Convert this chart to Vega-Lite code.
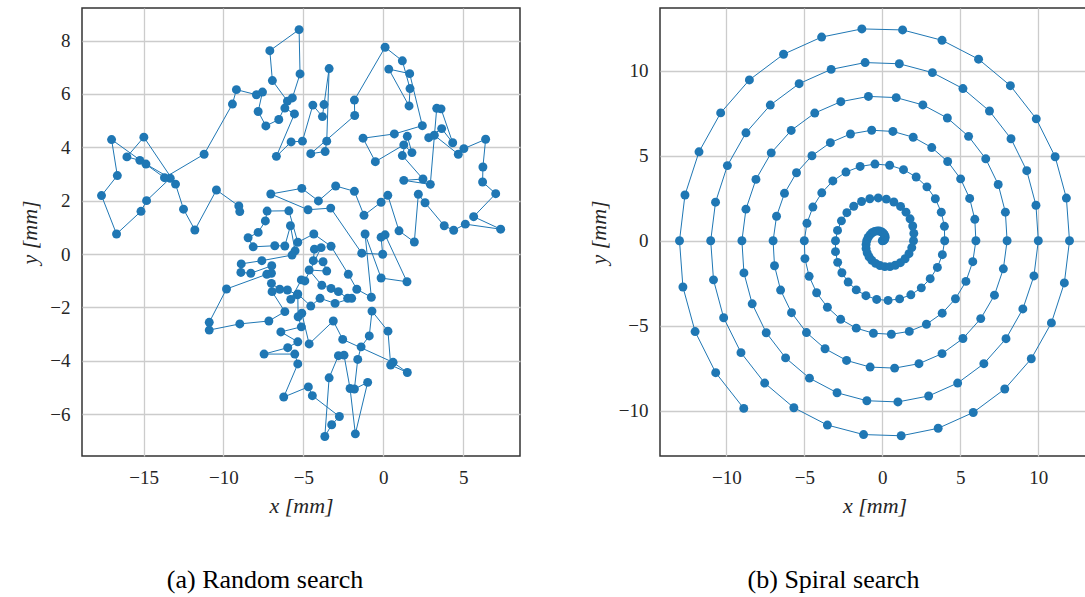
{
  "$schema": "https://vega.github.io/schema/vega-lite/v6.json",
  "padding": {"left": 18, "top": 7, "right": 0, "bottom": 0},
  "spacing": 65,
  "config": {
    "font": "Liberation Serif",
    "view": {"stroke": "#333333", "strokeWidth": 1.5},
    "axis": {"domain": false, "ticks": false, "grid": true, "gridColor": "#cccccc", "gridWidth": 1.3,
      "labelFont": "Liberation Serif", "labelFontSize": 19, "labelColor": "#262626", "labelPadding": 12,
      "titleFont": "Liberation Serif", "titleFontSize": 22, "titleFontStyle": "italic", "titleFontWeight": "normal", "titleColor": "#262626", "titlePadding": 8},
    "title": {"font": "Liberation Serif", "fontSize": 26, "fontWeight": "normal", "color": "#000000"}
  },
  "datasets": {
    "rw": [
      {"i":1,"x":-8.98,"y":1.59},{"i":2,"x":-9.04,"y":1.80},{"i":3,"x":-10.44,"y":2.40},{"i":4,"x":-11.79,"y":0.90},{"i":5,"x":-12.5,"y":1.68},
      {"i":6,"x":-13.0,"y":2.62},{"i":7,"x":-14.98,"y":4.38},{"i":8,"x":-16.04,"y":3.64},{"i":9,"x":-15.23,"y":3.51},{"i":10,"x":-14.85,"y":3.37},
      {"i":11,"x":-13.33,"y":2.84},{"i":12,"x":-14.81,"y":2.00},{"i":13,"x":-15.16,"y":1.60},{"i":14,"x":-16.69,"y":0.75},{"i":15,"x":-17.63,"y":2.19},
      {"i":16,"x":-16.64,"y":2.94},{"i":17,"x":-17.0,"y":4.29},{"i":18,"x":-13.69,"y":2.86},{"i":19,"x":-11.21,"y":3.74},{"i":20,"x":-9.44,"y":5.62},
      {"i":21,"x":-9.19,"y":6.16},{"i":22,"x":-7.94,"y":5.97},{"i":23,"x":-7.56,"y":6.07},{"i":24,"x":-7.83,"y":5.34},{"i":25,"x":-7.35,"y":4.80},
      {"i":26,"x":-6.54,"y":5.04},{"i":27,"x":-6.0,"y":5.73},{"i":28,"x":-6.94,"y":6.50},{"i":29,"x":-7.1,"y":7.62},{"i":30,"x":-5.27,"y":8.41},
      {"i":31,"x":-5.21,"y":6.75},{"i":32,"x":-5.69,"y":5.85},{"i":33,"x":-6.16,"y":5.47},{"i":34,"x":-5.56,"y":5.25},{"i":35,"x":-6.69,"y":3.66},
      {"i":36,"x":-5.77,"y":4.20},{"i":37,"x":-5.06,"y":4.23},{"i":39,"x":-4.41,"y":5.58},{"i":42,"x":-3.81,"y":5.15},{"i":43,"x":-3.71,"y":5.60},
      {"i":44,"x":-3.39,"y":6.95},{"i":45,"x":-3.54,"y":4.23},{"i":46,"x":-3.64,"y":3.84},{"i":47,"x":-4.54,"y":3.76},{"i":48,"x":-1.79,"y":5.19},
      {"i":49,"x":-1.81,"y":5.77},{"i":50,"x":0.11,"y":7.75},{"i":51,"x":1.19,"y":7.24},{"i":52,"x":1.67,"y":6.20},{"i":53,"x":1.61,"y":5.55},
      {"i":54,"x":0.34,"y":6.93},{"i":55,"x":1.65,"y":6.76},{"i":56,"x":2.44,"y":4.81},{"i":57,"x":0.69,"y":4.50},{"i":58,"x":-1.27,"y":4.34},
      {"i":59,"x":-0.5,"y":3.46},{"i":60,"x":1.28,"y":4.09},{"i":61,"x":1.79,"y":3.80},{"i":62,"x":1.5,"y":4.41},{"i":63,"x":1.19,"y":3.69},
      {"i":64,"x":2.48,"y":2.81},{"i":65,"x":1.28,"y":2.76},{"i":66,"x":2.94,"y":2.61},{"i":67,"x":3.34,"y":5.46},{"i":68,"x":3.61,"y":5.44},
      {"i":69,"x":4.34,"y":4.17},{"i":70,"x":3.65,"y":4.70},{"i":71,"x":2.84,"y":4.36},{"i":72,"x":3.19,"y":4.45},{"i":73,"x":4.69,"y":3.74},
      {"i":74,"x":5.04,"y":3.95},{"i":75,"x":6.4,"y":4.30},{"i":76,"x":6.23,"y":3.26},{"i":77,"x":6.21,"y":2.70},{"i":78,"x":7.03,"y":2.26},
      {"i":79,"x":5.65,"y":1.40},{"i":80,"x":7.34,"y":0.93},{"i":81,"x":5.13,"y":1.12},{"i":82,"x":4.4,"y":0.89},{"i":83,"x":3.81,"y":1.06},
      {"i":84,"x":2.61,"y":1.92},{"i":85,"x":2.19,"y":2.24},{"i":86,"x":1.94,"y":0.45},{"i":87,"x":0.98,"y":0.87},{"i":88,"x":0.28,"y":2.20},
      {"i":89,"x":-0.14,"y":1.94},{"i":90,"x":-1.21,"y":1.45},{"i":91,"x":-1.81,"y":2.35},{"i":92,"x":-2.98,"y":2.55},{"i":93,"x":-4.06,"y":1.99},
      {"i":94,"x":-5.1,"y":2.46},{"i":95,"x":-7.04,"y":2.25},{"i":96,"x":-4.71,"y":1.66},{"i":97,"x":-3.29,"y":1.72},{"i":98,"x":-1.35,"y":0.03},
      {"i":99,"x":-0.04,"y":-0.01},{"i":100,"x":-0.14,"y":0.63},{"i":101,"x":0.11,"y":0.72},{"i":102,"x":1.48,"y":-1.04},{"i":103,"x":-0.14,"y":-0.90},
      {"i":104,"x":-1.14,"y":0.75},{"i":105,"x":-0.75,"y":-1.62},{"i":106,"x":-1.66,"y":-1.32},{"i":107,"x":-2.19,"y":-0.76},{"i":108,"x":-3.27,"y":0.29},
      {"i":109,"x":-4.35,"y":0.75},{"i":110,"x":-5.35,"y":0.44},{"i":111,"x":-5.91,"y":1.62},{"i":112,"x":-7.27,"y":1.61},{"i":113,"x":-7.38,"y":1.24},
      {"i":114,"x":-7.83,"y":0.81},{"i":115,"x":-8.46,"y":0.61},{"i":116,"x":-8.14,"y":0.27},{"i":117,"x":-6.79,"y":0.31},{"i":118,"x":-6.16,"y":0.30},
      {"i":119,"x":-5.81,"y":1.06},{"i":120,"x":-5.52,"y":0.12},{"i":121,"x":-5.71,"y":-0.04},{"i":122,"x":-7.6,"y":-0.25},{"i":123,"x":-8.89,"y":-0.37},
      {"i":124,"x":-8.91,"y":-0.69},{"i":125,"x":-8.29,"y":-0.72},{"i":126,"x":-6.98,"y":-0.44},{"i":127,"x":-7.0,"y":-0.72},{"i":128,"x":-7.29,"y":-0.76},
      {"i":129,"x":-9.81,"y":-1.31},{"i":130,"x":-10.89,"y":-2.56},{"i":131,"x":-10.89,"y":-2.85},{"i":132,"x":-8.98,"y":-2.62},{"i":133,"x":-7.16,"y":-2.51},
      {"i":134,"x":-6.16,"y":-2.16},{"i":135,"x":-6.96,"y":-1.41},{"i":136,"x":-7.0,"y":-1.10},{"i":137,"x":-6.48,"y":-1.32},{"i":138,"x":-6.0,"y":-1.35},
      {"i":139,"x":-5.38,"y":-1.53},{"i":140,"x":-5.79,"y":-1.70},{"i":141,"x":-5.13,"y":-0.97},{"i":142,"x":-4.91,"y":-1.01},{"i":143,"x":-3.89,"y":0.24},
      {"i":144,"x":-4.31,"y":0.18},{"i":145,"x":-4.38,"y":-0.25},{"i":146,"x":-3.77,"y":-0.29},{"i":147,"x":-3.54,"y":-0.64},{"i":148,"x":-4.64,"y":-0.60},
      {"i":149,"x":-3.85,"y":-1.17},{"i":150,"x":-3.27,"y":-1.29},{"i":151,"x":-2.81,"y":-1.41},{"i":152,"x":-2.23,"y":-1.66},{"i":153,"x":-1.98,"y":-1.66},
      {"i":154,"x":-3.02,"y":-1.85},{"i":155,"x":-3.96,"y":-1.66},{"i":156,"x":-4.54,"y":-1.95},{"i":157,"x":-5.35,"y":-1.50},{"i":158,"x":-5.33,"y":-2.35},
      {"i":159,"x":-5.13,"y":-2.73},{"i":160,"x":-6.41,"y":-2.92},{"i":161,"x":-5.35,"y":-3.29},{"i":162,"x":-5.98,"y":-3.51},{"i":163,"x":-7.46,"y":-3.75},
      {"i":164,"x":-5.54,"y":-3.75},{"i":165,"x":-5.35,"y":-4.12},{"i":166,"x":-6.23,"y":-5.36},{"i":167,"x":-4.69,"y":-4.98},{"i":168,"x":-4.44,"y":-5.31},
      {"i":169,"x":-2.75,"y":-6.09},{"i":170,"x":-3.23,"y":-6.40},{"i":171,"x":-3.66,"y":-6.84},{"i":172,"x":-3.39,"y":-4.64},{"i":173,"x":-2.81,"y":-3.81},
      {"i":174,"x":-2.46,"y":-3.79},{"i":175,"x":-2.08,"y":-5.04},{"i":176,"x":-1.75,"y":-6.74},{"i":177,"x":-0.98,"y":-4.81},{"i":178,"x":-1.81,"y":-5.06},
      {"i":179,"x":-1.6,"y":-3.95},{"i":180,"x":-1.39,"y":-3.48},{"i":181,"x":-0.88,"y":-3.07},{"i":182,"x":-0.71,"y":-2.14},{"i":183,"x":0.29,"y":-2.89},
      {"i":184,"x":0.46,"y":-4.16},{"i":185,"x":1.5,"y":-4.44},{"i":186,"x":0.61,"y":-4.06},{"i":187,"x":-2.54,"y":-3.20},{"i":188,"x":-3.13,"y":-2.51},
      {"i":189,"x":-4.64,"y":-3.37},{"i":190,"x":-5.1,"y":-2.22}
    ],
    "sp": [
      {"k":0,"x":0,"y":0},{"k":1,"x":0.07,"y":0.01},{"k":2,"x":0.12,"y":0.05},{"k":3,"x":0.16,"y":0.12},{"k":4,"x":0.18,"y":0.2},
      {"k":5,"x":0.17,"y":0.29},{"k":6,"x":0.12,"y":0.38},{"k":7,"x":0.05,"y":0.46},{"k":8,"x":-0.06,"y":0.53},{"k":9,"x":-0.19,"y":0.57},
      {"k":10,"x":-0.33,"y":0.58},{"k":11,"x":-0.49,"y":0.55},{"k":12,"x":-0.65,"y":0.47},{"k":13,"x":-0.79,"y":0.35},{"k":14,"x":-0.91,"y":0.19},
      {"k":15,"x":-1,"y":0},{"k":16,"x":-1.04,"y":-0.22},{"k":17,"x":-1.04,"y":-0.46},{"k":18,"x":-0.97,"y":-0.71},{"k":19,"x":-0.85,"y":-0.94},
      {"k":20,"x":-0.67,"y":-1.15},{"k":21,"x":-0.43,"y":-1.33},{"k":22,"x":-0.15,"y":-1.46},{"k":23,"x":0.16,"y":-1.52},{"k":24,"x":0.49,"y":-1.52},
      {"k":25,"x":0.83,"y":-1.44},{"k":26,"x":1.16,"y":-1.29},{"k":27,"x":1.46,"y":-1.06},{"k":28,"x":1.71,"y":-0.76},{"k":29,"x":1.89,"y":-0.4},
      {"k":30,"x":2,"y":0},{"k":31,"x":2.02,"y":0.43},{"k":32,"x":1.95,"y":0.87},{"k":33,"x":1.78,"y":1.29},{"k":34,"x":1.52,"y":1.68},
      {"k":35,"x":1.17,"y":2.02},{"k":36,"x":0.74,"y":2.28},{"k":37,"x":0.26,"y":2.45},{"k":38,"x":-0.26,"y":2.52},{"k":39,"x":-0.8,"y":2.47},
      {"k":40,"x":-1.33,"y":2.31},{"k":41,"x":-1.83,"y":2.03},{"k":42,"x":-2.27,"y":1.65},{"k":43,"x":-2.62,"y":1.17},{"k":44,"x":-2.87,"y":0.61},
      {"k":45,"x":-3,"y":0},{"k":46,"x":-3,"y":-0.64},{"k":47,"x":-2.86,"y":-1.27},{"k":48,"x":-2.59,"y":-1.88},{"k":49,"x":-2.19,"y":-2.43},
      {"k":50,"x":-1.67,"y":-2.89},{"k":51,"x":-1.05,"y":-3.23},{"k":52,"x":-0.36,"y":-3.45},{"k":53,"x":0.37,"y":-3.51},{"k":54,"x":1.11,"y":-3.42},
      {"k":55,"x":1.83,"y":-3.18},{"k":56,"x":2.5,"y":-2.77},{"k":57,"x":3.07,"y":-2.23},{"k":58,"x":3.53,"y":-1.57},{"k":59,"x":3.85,"y":-0.82},
      {"k":60,"x":4,"y":0},{"k":61,"x":3.98,"y":0.85},{"k":62,"x":3.78,"y":1.68},{"k":63,"x":3.4,"y":2.47},{"k":64,"x":2.86,"y":3.17},
      {"k":65,"x":2.17,"y":3.75},{"k":66,"x":1.36,"y":4.18},{"k":67,"x":0.47,"y":4.44},{"k":68,"x":-0.47,"y":4.51},{"k":69,"x":-1.42,"y":4.37},
      {"k":70,"x":-2.33,"y":4.04},{"k":71,"x":-3.17,"y":3.52},{"k":72,"x":-3.88,"y":2.82},{"k":73,"x":-4.45,"y":1.98},{"k":74,"x":-4.83,"y":1.03},
      {"k":75,"x":-5,"y":0},{"k":76,"x":-4.96,"y":-1.05},{"k":77,"x":-4.69,"y":-2.09},{"k":78,"x":-4.21,"y":-3.06},{"k":79,"x":-3.52,"y":-3.91},
      {"k":80,"x":-2.67,"y":-4.62},{"k":81,"x":-1.67,"y":-5.14},{"k":82,"x":-0.57,"y":-5.44},{"k":83,"x":0.58,"y":-5.5},{"k":84,"x":1.73,"y":-5.33},
      {"k":85,"x":2.83,"y":-4.91},{"k":86,"x":3.84,"y":-4.26},{"k":87,"x":4.69,"y":-3.41},{"k":88,"x":5.36,"y":-2.39},{"k":89,"x":5.8,"y":-1.23},
      {"k":90,"x":6,"y":0},{"k":91,"x":5.93,"y":1.26},{"k":92,"x":5.6,"y":2.49},{"k":93,"x":5.02,"y":3.64},{"k":94,"x":4.19,"y":4.66},
      {"k":95,"x":3.17,"y":5.48},{"k":96,"x":1.98,"y":6.09},{"k":97,"x":0.68,"y":6.43},{"k":98,"x":-0.68,"y":6.5},{"k":99,"x":-2.04,"y":6.28},
      {"k":100,"x":-3.33,"y":5.77},{"k":101,"x":-4.51,"y":5},{"k":102,"x":-5.5,"y":4},{"k":103,"x":-6.27,"y":2.79},{"k":104,"x":-6.78,"y":1.44},
      {"k":105,"x":-7,"y":0},{"k":106,"x":-6.91,"y":-1.47},{"k":107,"x":-6.52,"y":-2.9},{"k":108,"x":-5.82,"y":-4.23},{"k":109,"x":-4.86,"y":-5.4},
      {"k":110,"x":-3.67,"y":-6.35},{"k":111,"x":-2.29,"y":-7.04},{"k":112,"x":-0.78,"y":-7.43},{"k":113,"x":0.79,"y":-7.49},{"k":114,"x":2.35,"y":-7.23},
      {"k":115,"x":3.83,"y":-6.64},{"k":116,"x":5.17,"y":-5.75},{"k":117,"x":6.31,"y":-4.58},{"k":118,"x":7.19,"y":-3.2},{"k":119,"x":7.76,"y":-1.65},
      {"k":120,"x":8,"y":0},{"k":121,"x":7.89,"y":1.68},{"k":122,"x":7.43,"y":3.31},{"k":123,"x":6.63,"y":4.82},{"k":124,"x":5.53,"y":6.14},
      {"k":125,"x":4.17,"y":7.22},{"k":126,"x":2.6,"y":7.99},{"k":127,"x":0.89,"y":8.42},{"k":128,"x":-0.89,"y":8.49},{"k":129,"x":-2.66,"y":8.18},
      {"k":130,"x":-4.33,"y":7.51},{"k":131,"x":-5.84,"y":6.49},{"k":132,"x":-7.12,"y":5.17},{"k":133,"x":-8.1,"y":3.61},{"k":134,"x":-8.74,"y":1.86},
      {"k":135,"x":-9,"y":0},{"k":136,"x":-8.87,"y":-1.89},{"k":137,"x":-8.34,"y":-3.71},{"k":138,"x":-7.44,"y":-5.41},{"k":139,"x":-6.2,"y":-6.89},
      {"k":140,"x":-4.67,"y":-8.08},{"k":141,"x":-2.9,"y":-8.94},{"k":142,"x":-0.99,"y":-9.41},{"k":143,"x":1,"y":-9.48},{"k":144,"x":2.97,"y":-9.13},
      {"k":145,"x":4.83,"y":-8.37},{"k":146,"x":6.51,"y":-7.23},{"k":147,"x":7.93,"y":-5.76},{"k":148,"x":9.01,"y":-4.01},{"k":149,"x":9.72,"y":-2.07},
      {"k":150,"x":10,"y":0},{"k":151,"x":9.85,"y":2.09},{"k":152,"x":9.26,"y":4.12},{"k":153,"x":8.25,"y":6},{"k":154,"x":6.87,"y":7.63},
      {"k":155,"x":5.17,"y":8.95},{"k":156,"x":3.21,"y":9.89},{"k":157,"x":1.09,"y":10.41},{"k":158,"x":-1.1,"y":10.48},{"k":159,"x":-3.28,"y":10.08},
      {"k":160,"x":-5.33,"y":9.24},{"k":161,"x":-7.18,"y":7.98},{"k":162,"x":-8.74,"y":6.35},{"k":163,"x":-9.93,"y":4.42},{"k":164,"x":-10.69,"y":2.27},
      {"k":165,"x":-11,"y":0},{"k":166,"x":-10.82,"y":-2.3},{"k":167,"x":-10.17,"y":-4.53},{"k":168,"x":-9.06,"y":-6.58},{"k":169,"x":-7.54,"y":-8.37},
      {"k":170,"x":-5.67,"y":-9.82},{"k":171,"x":-3.52,"y":-10.84},{"k":172,"x":-1.2,"y":-11.4},{"k":173,"x":1.21,"y":-11.47},{"k":174,"x":3.58,"y":-11.03},
      {"k":175,"x":5.83,"y":-10.1},{"k":176,"x":7.85,"y":-8.72},{"k":177,"x":9.55,"y":-6.94},{"k":178,"x":10.84,"y":-4.83},{"k":179,"x":11.67,"y":-2.48},
      {"k":180,"x":12,"y":0},{"k":181,"x":11.8,"y":2.51},{"k":182,"x":11.08,"y":4.94},{"k":183,"x":9.87,"y":7.17},{"k":184,"x":8.21,"y":9.12},
      {"k":185,"x":6.17,"y":10.68},{"k":186,"x":3.83,"y":11.79},{"k":187,"x":1.3,"y":12.4},{"k":188,"x":-1.31,"y":12.46},{"k":189,"x":-3.89,"y":11.98},
      {"k":190,"x":-6.33,"y":10.97},{"k":191,"x":-8.52,"y":9.46},{"k":192,"x":-10.36,"y":7.52},{"k":193,"x":-11.75,"y":5.23},{"k":194,"x":-12.65,"y":2.69},
      {"k":195,"x":-13,"y":0},{"k":196,"x":-12.78,"y":-2.72},{"k":197,"x":-12,"y":-5.34},{"k":198,"x":-10.68,"y":-7.76},{"k":199,"x":-8.88,"y":-9.86}
    ]
  },
  "hconcat": [
    {
      "width": 438, "height": 448,
      "data": {"name": "rw"},
      "title": {"text": "(a) Random search", "orient": "bottom", "offset": 51, "dx": -36},
      "encoding": {
        "x": {"field": "x", "type": "quantitative", "scale": {"domain": [-18.85, 8.55], "nice": false, "zero": false},
          "axis": {"values": [-15, -10, -5, 0, 5], "title": "x [mm]"}},
        "y": {"field": "y", "type": "quantitative", "scale": {"domain": [-7.57, 9.22], "nice": false, "zero": false},
          "axis": {"values": [-6, -4, -2, 0, 2, 4, 6, 8], "title": "y [mm]"}},
        "order": {"field": "i", "type": "quantitative"}
      },
      "layer": [
        {"mark": {"type": "line", "color": "#1f77b4", "strokeWidth": 1}},
        {"mark": {"type": "circle", "color": "#1f77b4", "size": 80, "opacity": 1}}
      ]
    },
    {
      "width": 429, "height": 448,
      "data": {"name": "sp"},
      "title": {"text": "(b) Spiral search", "orient": "bottom", "offset": 51, "dx": -41},
      "encoding": {
        "x": {"field": "x", "type": "quantitative", "scale": {"domain": [-14.25, 13.25], "nice": false, "zero": false},
          "axis": {"values": [-10, -5, 0, 5, 10], "title": "x [mm]"}},
        "y": {"field": "y", "type": "quantitative", "scale": {"domain": [-12.66, 13.69], "nice": false, "zero": false},
          "axis": {"values": [-10, -5, 0, 5, 10], "title": "y [mm]"}},
        "order": {"field": "k", "type": "quantitative"}
      },
      "layer": [
        {"mark": {"type": "line", "color": "#1f77b4", "strokeWidth": 1}},
        {"mark": {"type": "circle", "color": "#1f77b4", "size": 80, "opacity": 1}}
      ]
    }
  ]
}
